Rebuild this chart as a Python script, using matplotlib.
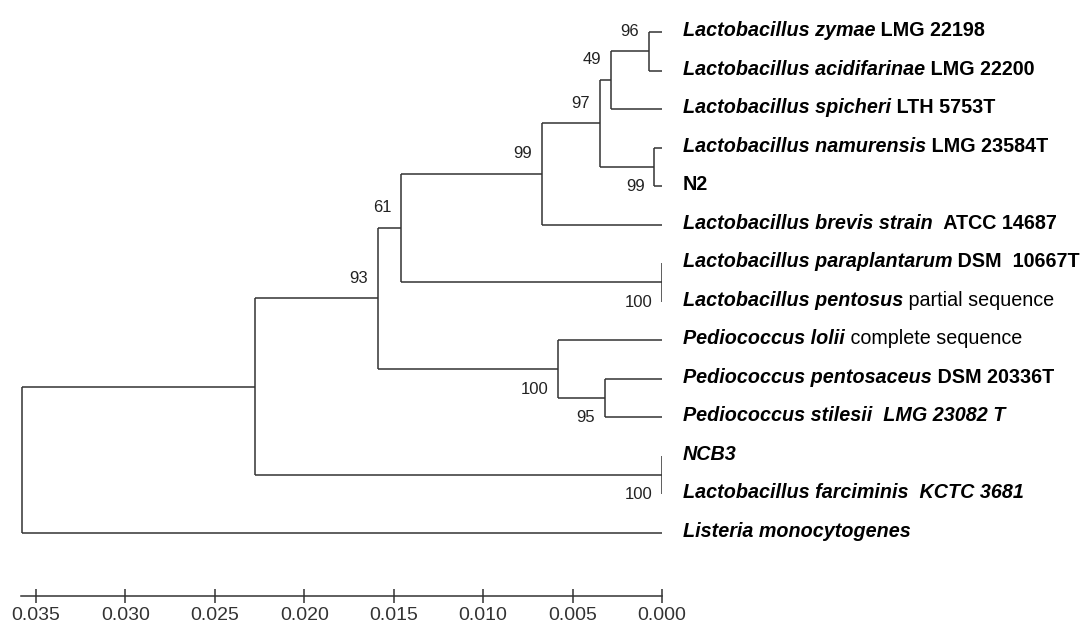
import matplotlib
matplotlib.use('Agg')
from matplotlib import pyplot as plt

plt.rcParams['font.family'] = ['Liberation Sans', 'DejaVu Sans']

# tips (top to bottom), each label split in styled parts: bi = bold italic, b = bold, n = normal
leaf_labels = [
    [('Lactobacillus zymae', 'bi'), (' LMG 22198', 'b')],
    [('Lactobacillus acidifarinae', 'bi'), (' LMG 22200', 'b')],
    [('Lactobacillus spicheri', 'bi'), (' LTH 5753T', 'b')],
    [('Lactobacillus namurensis', 'bi'), (' LMG 23584T', 'b')],
    [('N2', 'b')],
    [('Lactobacillus brevis strain', 'bi'), ('  ATCC 14687', 'b')],
    [('Lactobacillus paraplantarum', 'bi'), (' DSM  10667T', 'b')],
    [('Lactobacillus pentosus', 'bi'), (' partial sequence', 'n')],
    [('Pediococcus lolii', 'bi'), (' complete sequence', 'n')],
    [('Pediococcus pentosaceus', 'bi'), (' DSM 20336T', 'b')],
    [('Pediococcus stilesii  LMG 23082 T', 'bi')],
    [('NCB3', 'bi')],
    [('Lactobacillus farciminis  KCTC 3681', 'bi')],
    [('Listeria monocytogenes', 'bi')],
]

# internal nodes: children (leaf index or node name), distance (axis value), bootstrap
node_names = ['n96', 'n49', 'nN2', 'n97', 'n99', 'nPP', 'n61', 'n95', 'nPed', 'n93', 'nNCB', 'nA', 'root']
node_children = [
    (0, 1), ('n96', 2), (3, 4), ('n49', 'nN2'), ('n97', 5), (6, 7), ('n99', 'nPP'),
    (9, 10), (8, 'n95'), ('n61', 'nPed'), (11, 12), ('n93', 'nNCB'), ('nA', 13),
]
node_dist = [0.00073, 0.00285, 0.00042, 0.00347, 0.00671, 0.0, 0.01459,
             0.00319, 0.00581, 0.01588, 0.0, 0.02276, 0.03578]
node_support = [96, 49, 99, 97, 99, 100, 61, 95, 100, 93, 100, None, None]

ticks = [0.035, 0.030, 0.025, 0.020, 0.015, 0.010, 0.005, 0.000]

fig = plt.figure(figsize=(10.86, 6.25), dpi=100)
W, H = 1086, 625
x0, x_end, x035 = 21, 662, 36          # pixel layout of scale bar
y_axis, y_first, y_step = 596, 32, 38.5
ax = fig.add_axes([x0 / W, (H - y_axis) / H, (x_end - x0) / W, y_axis / H])
ax.set_xlim(0.035 * (x_end - x0) / (x_end - x035), 0)
ax.set_ylim((y_axis - y_first) / y_step, -y_first / y_step)

pos = {}
def place(key):
    if isinstance(key, int):
        return 0.0, float(key)
    if key in pos:
        return pos[key]
    k = node_names.index(key)
    ys = [place(c)[1] for c in node_children[k]]
    pos[key] = (node_dist[k], sum(ys) / len(ys))
    return pos[key]

lc = '#333333'
parent_of = {}
for k, name in enumerate(node_names):
    for j, c in enumerate(node_children[k]):
        parent_of[c] = (name, j)

for k, name in enumerate(node_names):
    nx, ny = place(name)
    cys = []
    for c in node_children[k]:
        cx, cy = place(c)
        cys.append(cy)
        if cx != nx:
            ax.plot([nx, cx], [cy, cy], color=lc, lw=1.1, solid_capstyle='butt')
    ax.plot([nx, nx], [min(cys), max(cys)], color=lc, lw=1.1, solid_capstyle='butt')
    if node_support[k] is not None:
        upper = parent_of[name][1] == 0
        ax.annotate(str(node_support[k]), xy=(nx, ny), xytext=(-7, 14.5 if upper else -14.5),
                    textcoords='offset points', ha='right', va='center', fontsize=12, color='#222222')

for i, segs in enumerate(leaf_labels):
    prev = None
    for text, style in segs:
        kw = dict(fontsize=14.2, color='black',
                  fontweight='bold' if 'b' in style else 'normal',
                  fontstyle='italic' if 'i' in style else 'normal')
        if prev is None:
            prev = ax.annotate(text, xy=(0, i), xytext=(15, 1), textcoords='offset points',
                               ha='left', va='center', **kw)
        else:
            prev = ax.annotate(text, xy=(1, 0), xycoords=prev, ha='left', va='bottom', **kw)

for s in ['left', 'top', 'right']:
    ax.spines[s].set_visible(False)
ax.spines['bottom'].set_linewidth(1.1)
ax.spines['bottom'].set_color(lc)
ax.set_yticks([])
ax.set_xticks(ticks)
ax.set_xticklabels(['%.3f' % t for t in ticks])
ax.tick_params(axis='x', direction='inout', length=9.5, width=1.1, color=lc, pad=3.5,
               labelsize=14, labelcolor='#333333')

fig.savefig('out.png', dpi=100)
